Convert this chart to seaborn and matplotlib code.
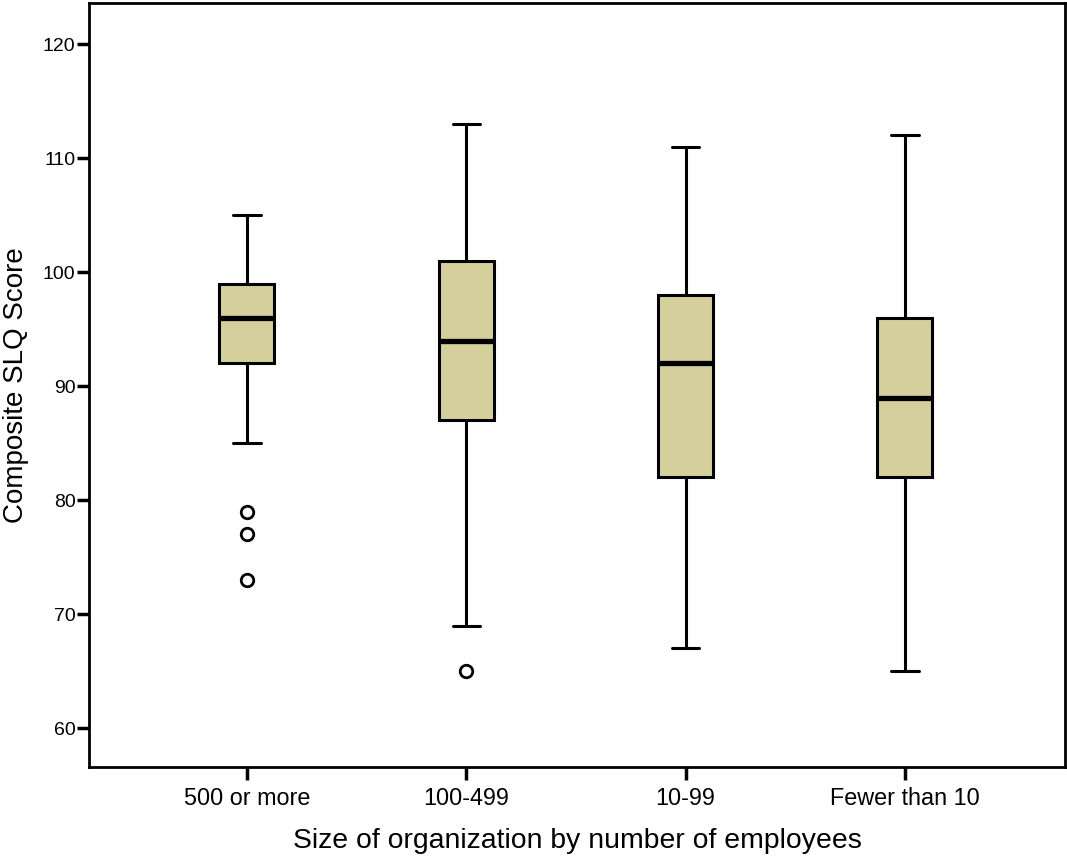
import matplotlib
matplotlib.use("Agg")
import matplotlib.pyplot as plt
import seaborn as sns
import pandas as pd

# Composite SLQ scores per organization size group
sizes = ["500 or more", "100-499", "10-99", "Fewer than 10"]
scores_500_plus = [73, 77, 79, 85, 92, 93, 94, 95, 96, 97, 98, 99, 99, 100, 102, 104, 105]
scores_100_499 = [65, 69, 80, 87, 89, 92, 94, 96, 99, 101, 105, 110, 113]
scores_10_99 = [67, 75, 82, 88, 92, 95, 98, 104, 111]
scores_under_10 = [65, 74, 82, 86, 89, 93, 96, 104, 112]

groups = [scores_500_plus, scores_100_499, scores_10_99, scores_under_10]
df = pd.DataFrame({
    "size": [s for s, g in zip(sizes, groups) for _ in g],
    "score": [v for g in groups for v in g],
})

sns.set_theme(style="white")
plt.rcParams["font.family"] = ["Liberation Sans", "DejaVu Sans"]
plt.rcParams["text.color"] = "black"
plt.rcParams["axes.labelcolor"] = "black"
plt.rcParams["xtick.color"] = "black"
plt.rcParams["ytick.color"] = "black"

fig = plt.figure(figsize=(10.67, 8.59), dpi=100)
ax = fig.add_axes([89 / 1067, 1 - 767 / 859, (1065 - 89) / 1067, (767 - 3) / 859])

sns.boxplot(
    data=df, x="size", y="score", order=sizes, ax=ax,
    width=0.25, color="#d4cf9b", saturation=1, linewidth=2.2,
    linecolor="black",
    boxprops=dict(edgecolor="black", linewidth=2.2),
    whiskerprops=dict(color="black", linewidth=2.2),
    capprops=dict(color="black", linewidth=2.2),
    medianprops=dict(color="black", linewidth=3.8),
    flierprops=dict(marker="o", markersize=9, markerfacecolor="white",
                    markeredgecolor="black", markeredgewidth=2),
)

ax.set_xlim(-0.72, 3.73)
ax.set_ylim(56.6, 123.6)
ax.set_yticks([60, 70, 80, 90, 100, 110, 120])

for side in ["left", "right", "top", "bottom"]:
    ax.spines[side].set_visible(True)
    ax.spines[side].set_color("black")
    ax.spines[side].set_linewidth(2)

ax.tick_params(axis="y", which="major", direction="out", length=8.6, width=2.5,
               left=True, labelsize=14, pad=1.2, colors="black")
ax.tick_params(axis="x", which="major", direction="out", length=9.4, width=2.5,
               bottom=True, labelsize=16.8, pad=5, colors="black")

ax.set_xlabel("Size of organization by number of employees", fontsize=20.4,
              labelpad=13, color="black")
ax.set_ylabel("Composite SLQ Score", fontsize=20, labelpad=10, color="black")

fig.savefig("out.png", dpi=100)
